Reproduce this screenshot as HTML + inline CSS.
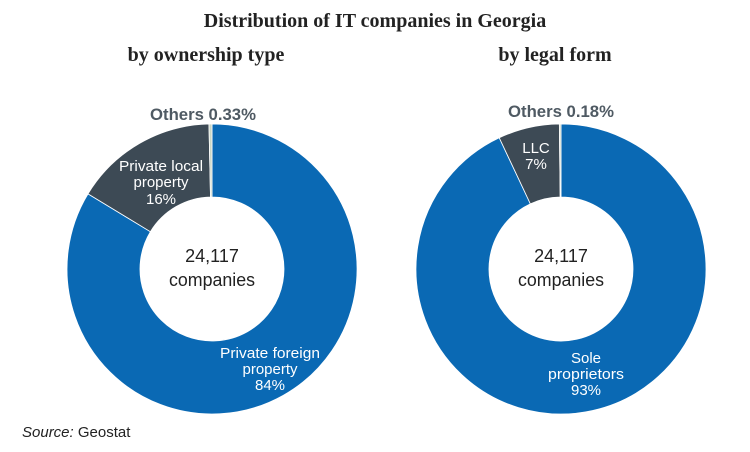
<!DOCTYPE html>
<html><head><style>
body{margin:0;width:750px;height:447px;background:#fff;overflow:hidden}
</style></head><body>
<svg width="750" height="447" xmlns="http://www.w3.org/2000/svg" font-family="Liberation Sans, sans-serif">
<text x="375" y="27" text-anchor="middle" font-family="Liberation Serif, serif" font-weight="bold" font-size="20" fill="#222">Distribution of IT companies in Georgia</text>
<text x="206" y="61" text-anchor="middle" font-family="Liberation Serif, serif" font-weight="bold" font-size="20" fill="#222">by ownership type</text>
<text x="555" y="61" text-anchor="middle" font-family="Liberation Serif, serif" font-weight="bold" font-size="20" fill="#222">by legal form</text>
<g stroke="#fff" stroke-width="0.8">
<path d="M212 124 A145 145 0 1 1 88.0 193.9 L150.4 231.7 A72 72 0 1 0 212 197 Z" fill="#0a69b4"/>
<path d="M88.0 193.9 A145 145 0 0 1 208.96 124.03 L210.49 197.02 A72 72 0 0 0 150.4 231.7 Z" fill="#3d4a55"/>
<path d="M208.96 124.03 A145 145 0 0 1 212 124 L212 197 A72 72 0 0 0 210.49 197.02 Z" fill="#c9d6c4"/>
<path d="M561 124 A145 145 0 1 1 499.26 137.8 L530.34 203.85 A72 72 0 1 0 561 197 Z" fill="#0a69b4"/>
<path d="M499.26 137.8 A145 145 0 0 1 559.36 124.01 L560.18 197.0 A72 72 0 0 0 530.34 203.85 Z" fill="#3d4a55"/>
<path d="M559.36 124.01 A145 145 0 0 1 561 124 L561 197 A72 72 0 0 0 560.18 197.0 Z" fill="#c9d6c4"/>
</g>
<g font-size="17" font-weight="bold" fill="#4f5a63" text-anchor="middle">
<text x="203" y="120" textLength="106" lengthAdjust="spacingAndGlyphs">Others 0.33%</text>
<text x="561" y="117" textLength="106" lengthAdjust="spacingAndGlyphs">Others 0.18%</text>
</g>
<g font-size="15" fill="#fff" text-anchor="middle">
<text x="161" y="171" textLength="84" lengthAdjust="spacingAndGlyphs">Private local</text>
<text x="161" y="187">property</text>
<text x="161" y="204">16%</text>
<text x="536" y="153">LLC</text>
<text x="536" y="169">7%</text>
<text x="270" y="358" textLength="100" lengthAdjust="spacingAndGlyphs">Private foreign</text>
<text x="270" y="374">property</text>
<text x="270" y="390">84%</text>
<text x="586" y="363">Sole</text>
<text x="586" y="379" textLength="76" lengthAdjust="spacingAndGlyphs">proprietors</text>
<text x="586" y="395">93%</text>
</g>
<g font-size="18" fill="#222" text-anchor="middle">
<text x="212" y="262">24,117</text>
<text x="212" y="286" textLength="86" lengthAdjust="spacingAndGlyphs">companies</text>
<text x="561" y="262">24,117</text>
<text x="561" y="286" textLength="86" lengthAdjust="spacingAndGlyphs">companies</text>
</g>
<text x="22" y="437" font-size="15" fill="#222"><tspan font-style="italic">Source:</tspan> Geostat</text>
</svg>
</body></html>
